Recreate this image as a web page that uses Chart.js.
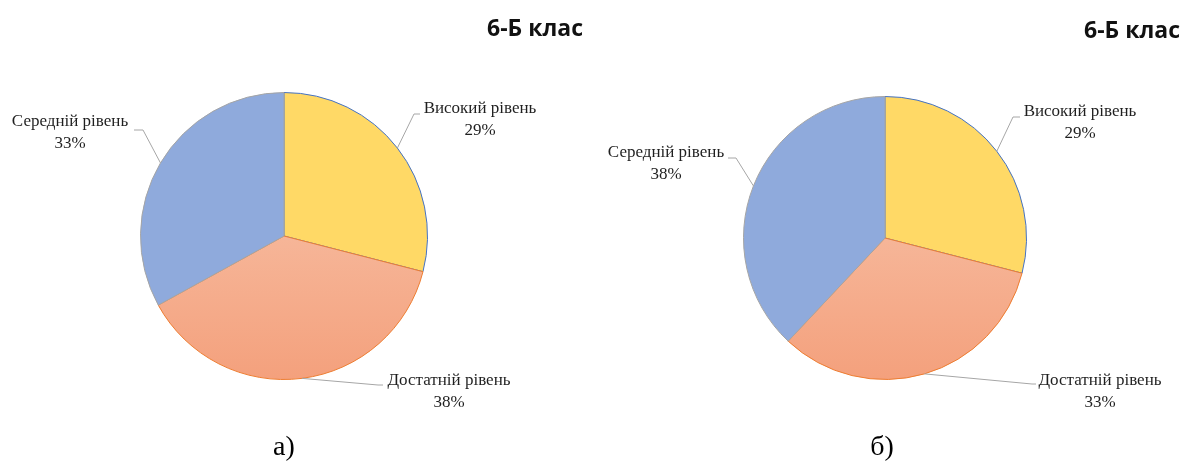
<!DOCTYPE html>
<html>
<head>
<meta charset="utf-8">
<script src="https://cdn.jsdelivr.net/npm/chart.js@4"></script>
<style>
  html, body { margin: 0; padding: 0; background: #fff; }
  #wrap { position: relative; width: 1183px; height: 464px; }
  #wrap canvas { position: absolute; left: 0; top: 0; }
</style>
</head>
<body>
<div id="wrap">
  <canvas id="chartA" width="1183" height="464"></canvas>
  <canvas id="chartB" width="1183" height="464"></canvas>
</div>
<script>
const categories = ['Високий рівень', 'Достатній рівень', 'Середній рівень'];
const valuesA = [29, 38, 33];
const valuesB = [29, 33, 38];
const chartTitle = '6-Б клас';
const captions = ['а)', 'б)'];

// label placement (page px): first-line text centre, leader elbow, leader end
const labelLayoutA = [
  { tx: 480, ty: 109, ex: 414, ey: 114, lx: 420, ly: 114 },
  { tx: 449, ty: 381, ex: 378, ey: 385, lx: 383, ly: 385 },
  { tx: 70, ty: 122, ex: 143, ey: 130, lx: 134, ly: 130 }
];
const labelLayoutB = [
  { tx: 1080, ty: 112, ex: 1013, ey: 117, lx: 1020, ly: 117 },
  { tx: 1100, ty: 381, ex: 1032, ey: 384, lx: 1036, ly: 384 },
  { tx: 666, ty: 153, ex: 736, ey: 158, lx: 728, ly: 158 }
];

const sliceColors = ['#FFD966', null, '#8FAADC'];

function sliceFill(ctx) {
  if (ctx.dataIndex !== 1) return sliceColors[ctx.dataIndex];
  const area = ctx.chart.chartArea;
  if (!area) return '#F4B183';
  const g = ctx.chart.ctx.createLinearGradient(0, area.top, 0, area.bottom);
  g.addColorStop(0, '#F8CBB4');
  g.addColorStop(1, '#F4A07C');
  return g;
}

const labelsPlugin = {
  id: 'pieLabels',
  afterDatasetsDraw(chart, args, opts) {
    const ctx = chart.ctx;
    const meta = chart.getDatasetMeta(0);
    const values = chart.data.datasets[0].data;
    ctx.save();
    meta.data.forEach((arc, i) => {
      const p = arc.getProps(['x', 'y', 'startAngle', 'endAngle', 'outerRadius'], true);
      const mid = (p.startAngle + p.endAngle) / 2;
      const ax = p.x + Math.cos(mid) * p.outerRadius;
      const ay = p.y + Math.sin(mid) * p.outerRadius;
      const L = opts.layout[i];
      ctx.strokeStyle = '#A6A6A6';
      ctx.lineWidth = 1;
      ctx.beginPath();
      ctx.moveTo(ax, ay);
      ctx.lineTo(L.ex, L.ey);
      ctx.lineTo(L.lx, L.ly);
      ctx.stroke();
      ctx.fillStyle = '#1f1f1f';
      ctx.font = '17px "Liberation Serif", "Times New Roman", serif';
      ctx.textAlign = 'center';
      ctx.textBaseline = 'middle';
      ctx.fillText(categories[i], L.tx, L.ty);
      ctx.fillText(values[i] + '%', L.tx, L.ty + 22);
    });
    ctx.fillStyle = '#111';
    ctx.font = 'bold 23px "Open Sans", sans-serif';
    ctx.textAlign = 'center';
    ctx.fillText(chartTitle, opts.titleX, opts.titleY);
    ctx.fillStyle = '#000';
    ctx.font = '28px "Liberation Serif", "Times New Roman", serif';
    ctx.fillText(opts.caption, opts.capX, opts.capY);
    ctx.restore();
  }
};

function makePie(id, values, layout, pad, extra) {
  return new Chart(document.getElementById(id), {
    type: 'pie',
    data: {
      labels: categories,
      datasets: [{
        data: values,
        backgroundColor: sliceFill,
        borderColor: ['#4472C4', '#ED7D31', '#A5A5A5'],
        borderWidth: 1
      }]
    },
    options: {
      responsive: false,
      animation: false,
      layout: { padding: pad },
      plugins: {
        legend: { display: false },
        tooltip: { enabled: false },
        pieLabels: Object.assign({ layout: layout }, extra)
      }
    },
    plugins: [labelsPlugin]
  });
}

makePie('chartA', valuesA, labelLayoutA,
  { left: 140, right: 755, top: 90, bottom: 82 },
  { titleX: 535, titleY: 29, caption: captions[0], capX: 284, capY: 448 });
makePie('chartB', valuesB, labelLayoutB,
  { left: 743, right: 156, top: 94, bottom: 82 },
  { titleX: 1132, titleY: 31, caption: captions[1], capX: 882, capY: 448 });
</script>
</body>
</html>
